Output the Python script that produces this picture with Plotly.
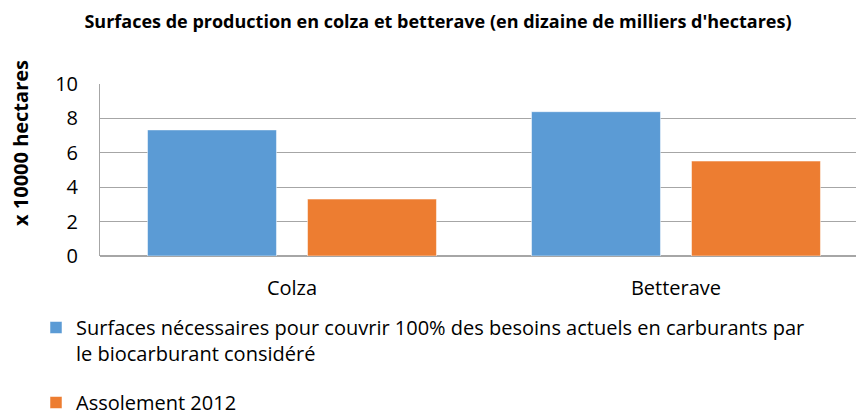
import plotly.graph_objects as go

categories = ["Colza", "Betterave"]
series_names = [
    "Surfaces nécessaires pour couvrir 100% des besoins actuels en carburants par<br>le biocarburant considéré",
    "Assolement 2012",
]
surfaces_necessaires = [7.33, 8.39]
assolement_2012 = [3.31, 5.52]
y_ticks = [0, 2, 4, 6, 8, 10]

FONT = "Open Sans"
colors = ["#5B9BD5", "#ED7D31"]

W, H = 864, 415
OFF = 8  # page body margin offset
L, T = 100 - OFF, 84 - OFF
R = OFF
B = H - (256 - OFF)
plot_w = W - L - R
plot_h = H - T - B


def px_x(x):
    return (x - OFF - L) / plot_w


def px_y(y):
    return (H - B - (y - OFF)) / plot_h


fig = go.Figure()
for i, (name, vals) in enumerate(zip(series_names, [surfaces_necessaires, assolement_2012])):
    fig.add_trace(go.Bar(
        x=categories, y=vals, name=name,
        marker=dict(color=colors[i], line=dict(color="rgba(255,255,255,0.5)", width=1)),
        legendgroup=f"g{i}",
    ))

fig.update_layout(
    width=W, height=H,
    margin=dict(l=L, r=R, t=T, b=B, autoexpand=False),
    paper_bgcolor="white", plot_bgcolor="white",
    barmode="group", bargap=0.1667, bargroupgap=0.194,
    font=dict(family=FONT, color="#000000"),
    title=dict(text="<b>Surfaces de production en colza et betterave (en dizaine de milliers d'hectares)</b>",
               x=(438 - OFF) / W, xref="container", xanchor="center",
               y=1 - (22 - OFF) / H, yref="container", yanchor="middle",
               font=dict(family=FONT, size=18, color="#000000")),
    showlegend=True,
    legend=dict(orientation="v", x=px_x(36), xanchor="left", y=px_y(308), yanchor="top",
                traceorder="grouped", tracegroupgap=20, valign="top",
                font=dict(family=FONT, size=20, color="#000000"),
                itemwidth=30),
    xaxis=dict(range=[-0.5, 1.4896], showgrid=False, showline=False, ticks="",
               tickfont=dict(family=FONT, size=20), ticklabelstandoff=18),
    yaxis=dict(range=[0, 10], tickvals=y_ticks, showgrid=True, gridcolor="#A6A6A6", gridwidth=1,
               showline=True, linecolor="#A6A6A6", linewidth=1, zeroline=True, zerolinecolor="#A6A6A6",
               ticks="", tickfont=dict(family=FONT, size=20), ticklabelstandoff=17),
    annotations=[dict(text="<b>x 10000 hectares</b>", x=px_x(20), xref="paper",
                      y=px_y(143), yref="paper", xanchor="center", yanchor="middle",
                      showarrow=False, textangle=-90, font=dict(family=FONT, size=20))],
)

fig.write_html("out.html")
